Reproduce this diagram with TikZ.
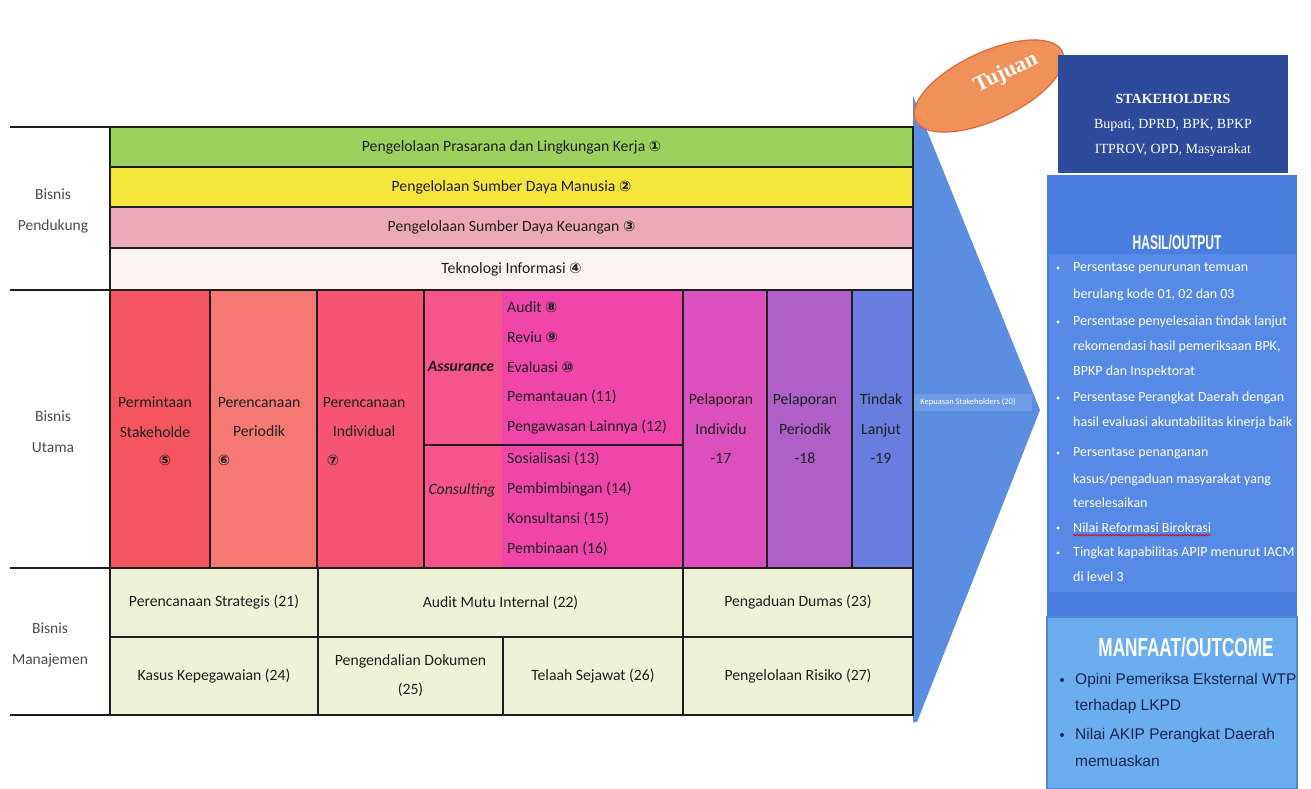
\documentclass[tikz,border=0pt]{standalone}
\usepackage{fontspec}
\usepackage{graphicx}
\setmainfont{Carlito}
\newfontfamily\symface{DejaVu Sans}
\newfontfamily\serifface{Liberation Serif}
\newfontfamily\arialface{Liberation Sans}
\usetikzlibrary{decorations.pathmorphing}

\definecolor{lineC}{HTML}{1E1E1E}
\definecolor{txtC}{HTML}{1F1F1F}
\definecolor{cGreen}{HTML}{9DD15E}
\definecolor{cYellow}{HTML}{F5E63C}
\definecolor{cPink}{HTML}{EBAAB6}
\definecolor{cWhite}{HTML}{FAF3F0}
\definecolor{cPerm}{HTML}{F5555F}
\definecolor{cPeri}{HTML}{F57873}
\definecolor{cIndi}{HTML}{F55573}
\definecolor{cAssL}{HTML}{F5558C}
\definecolor{cAssR}{HTML}{F046AA}
\definecolor{cPelI}{HTML}{DC50BE}
\definecolor{cPelP}{HTML}{AF5FC8}
\definecolor{cTind}{HTML}{697DE1}
\definecolor{cCream}{HTML}{F0F2D7}
\definecolor{cChev}{HTML}{5B8DE0}
\definecolor{cBand}{HTML}{6E9CE6}
\definecolor{cOrange}{HTML}{F0915A}
\definecolor{cOrangeD}{HTML}{E1643C}
\definecolor{cStake}{HTML}{2E4B9B}
\definecolor{cHasil}{HTML}{4A7DE0}
\definecolor{cHasilIn}{HTML}{568AE6}
\definecolor{cManf}{HTML}{6AAEF0}
\definecolor{cManfB}{HTML}{4A86DA}
\definecolor{cNavy}{HTML}{1C2550}

\newcommand\tabsize{\fontsize{15.7}{18}\selectfont}
\newcommand\circnum[1]{{\symface\bfseries\fontsize{14.5}{14.5}\selectfont#1}}

\begin{document}
\begin{tikzpicture}[x=1pt,y=-1pt,
  cell/.style={draw=lineC, line width=1.3pt, inner sep=0pt, outer sep=0pt,
               font=\tabsize, text=txtC, align=center},
  txt/.style={font=\tabsize, text=txtC, inner sep=0pt, align=center},
  multi/.style={txt, font=\fontsize{15.7}{29.5}\selectfont},
  rowlabel/.style={font=\fontsize{15.5}{31}\selectfont, text=txtC!80, inner sep=0pt, align=center},
  item/.style={txt, anchor=west},
  gridline/.style={draw=lineC, line width=1.3pt},
  hasil/.style={font=\fontsize{14}{16}\selectfont, text=white, inner sep=0pt, anchor=west},
  manf/.style={font=\arialface\fontsize{15.5}{18}\selectfont, text=cNavy, inner sep=0pt, anchor=west},
  dotw/.style={fill=white},
  dotn/.style={fill=cNavy}]

\useasboundingbox (0,0) rectangle (1311,789);
\fill[white] (0,0) rectangle (1311,789);

% --- chevron pointing to the goals panel
\fill[cChev] (913,96) -- (1040,410) -- (917,722) -- (913,722) -- cycle;
\fill[cBand] (913,394) rectangle (1032,411);
\node[font=\fontsize{8.5}{9}\selectfont, text=white, inner sep=0pt] (kepuasan) at (968,402) {Kepuasan Stakeholders (20)};

% --- supporting business rows
\node[cell, fill=cGreen, minimum width=803pt, minimum height=40pt] (prasarana) at (511.5,147)
  {Pengelolaan Prasarana dan Lingkungan Kerja \circnum{①}};
\node[cell, fill=cYellow, minimum width=803pt, minimum height=40pt] (sdm) at (511.5,187)
  {Pengelolaan Sumber Daya Manusia \circnum{②}};
\node[cell, fill=cPink, minimum width=803pt, minimum height=41pt] (keuangan) at (511.5,227.5)
  {Pengelolaan Sumber Daya Keuangan \circnum{③}};
\node[cell, fill=cWhite, minimum width=803pt, minimum height=42pt] (ti) at (511.5,269)
  {Teknologi Informasi \circnum{④}};

% --- core business columns
\node[cell, fill=cPerm, minimum width=100pt, minimum height=278pt] (perm) at (160,429) {};
\node[cell, fill=cPeri, minimum width=107pt, minimum height=278pt] (peri) at (263.5,429) {};
\node[cell, fill=cIndi, minimum width=107pt, minimum height=278pt] (indi) at (370.5,429) {};
\node[cell, fill=cAssR, minimum width=259pt, minimum height=155pt,
  path picture={\fill[cAssL] (path picture bounding box.south west) rectangle ([xshift=78pt]path picture bounding box.north west);}]
  (assurance) at (553.5,367.5) {};
\node[cell, fill=cAssR, minimum width=259pt, minimum height=123pt,
  path picture={\fill[cAssL] (path picture bounding box.south west) rectangle ([xshift=78pt]path picture bounding box.north west);}]
  (consulting) at (553.5,506.5) {};
\node[cell, fill=cPelI, minimum width=84pt, minimum height=278pt] (pelind) at (725,429) {};
\node[cell, fill=cPelP, minimum width=85pt, minimum height=278pt] (pelper) at (809.5,429) {};
\node[cell, fill=cTind, minimum width=61pt, minimum height=278pt] (tindak) at (882.5,429) {};

\node[multi] (tperm) at (155,417) {Permintaan\\Stakeholde};
\node[txt] (nperm) at (165,460) {\circnum{⑤}};
\node[multi] (tperi) at (259,417) {Perencanaan\\Periodik};
\node[txt] (nperi) at (224,460) {\circnum{⑥}};
\node[multi] (tindi) at (364,417) {Perencanaan\\Individual};
\node[txt] (nindi) at (333,460) {\circnum{⑦}};

\node[txt] (lassurance) at (461,366) {\bfseries\itshape Assurance};
\node[item] (audit) at (507,307) {Audit \circnum{⑧}};
\node[item] (reviu) at (507,337) {Reviu \circnum{⑨}};
\node[item] (evaluasi) at (507,367) {Evaluasi \circnum{⑩}};
\node[item] (pemantauan) at (507,397) {Pemantauan (11)};
\node[item] (pengawasan) at (507,427) {Pengawasan Lainnya (12)};

\node[txt] (lconsulting) at (462,490) {\itshape Consulting};
\node[item] (sosialisasi) at (507,459) {Sosialisasi (13)};
\node[item] (pembimbingan) at (507,489) {Pembimbingan (14)};
\node[item] (konsultansi) at (507,519) {Konsultansi (15)};
\node[item] (pembinaan) at (507,549) {Pembinaan (16)};

\node[multi] (tpelind) at (721,429) {Pelaporan\\Individu\\-17};
\node[multi] (tpelper) at (805,429) {Pelaporan\\Periodik\\-18};
\node[multi] (ttindak) at (881,429) {Tindak\\Lanjut\\-19};

% --- management business rows
\node[cell, fill=cCream, minimum width=208pt, minimum height=69pt] (strategis) at (214,602.5) {Perencanaan Strategis (21)};
\node[cell, fill=cCream, minimum width=365pt, minimum height=69pt] (amintern) at (500.5,602.5) {Audit Mutu Internal (22)};
\node[cell, fill=cCream, minimum width=230pt, minimum height=69pt] (dumas) at (798,602.5) {Pengaduan Dumas (23)};
\node[cell, fill=cCream, minimum width=208pt, minimum height=78pt] (kasus) at (214,676) {Kasus Kepegawaian (24)};
\node[cell, fill=cCream, minimum width=185pt, minimum height=78pt, font=\fontsize{15.7}{29}\selectfont] (dokumen) at (410.5,676) {Pengendalian Dokumen\\(25)};
\node[cell, fill=cCream, minimum width=180pt, minimum height=78pt] (telaah) at (593,676) {Telaah Sejawat (26)};
\node[cell, fill=cCream, minimum width=230pt, minimum height=78pt] (risiko) at (798,676) {Pengelolaan Risiko (27)};

% --- row labels and their rules
\draw[gridline] (10,127) -- (110,127);
\draw[gridline] (10,290) -- (110,290);
\draw[gridline] (10,568) -- (110,568);
\draw[gridline] (10,715) -- (110,715);
\node[rowlabel] (lpendukung) at (53,211) {Bisnis\\Pendukung};
\node[rowlabel] (lutama) at (53,432) {Bisnis\\Utama};
\node[rowlabel] (lmanajemen) at (50,645) {Bisnis\\Manajemen};

% --- goal ellipse
\filldraw[fill=cOrange, draw=cOrangeD, line width=1.2pt, rotate around={25:(989,86)}]
  (989,86) ellipse [x radius=81, y radius=34];
\node[font=\serifface\bfseries\fontsize{22}{22}\selectfont, text=white, rotate=25, inner sep=0pt] (tujuan) at (1006,73) {Tujuan};

% --- stakeholders box
\node[fill=cStake, minimum width=230pt, minimum height=118pt, inner sep=0pt] (stake) at (1173,114) {};
\node[font=\serifface\fontsize{14}{25}\selectfont, text=white, align=center, inner sep=0pt] (staketext) at (1173,125)
  {\textbf{STAKEHOLDERS}\\Bupati, DPRD, BPK, BPKP\\ITPROV, OPD, Masyarakat};

% --- output panel
\node[fill=cHasil, minimum width=250pt, minimum height=443pt, inner sep=0pt] (hasilbox) at (1172,396.5) {};
\fill[cHasilIn] (1049,254) rectangle (1296,592);
\node[text=white, inner sep=0pt] (hasiltitle) at (1177,242)
  {\scalebox{0.6}[1]{\arialface\bfseries\fontsize{20}{20}\selectfont HASIL/OUTPUT}};
\begin{scope}
\clip (1047,175) rectangle (1299,618);
\node[hasil] (h1) at (1073,268) {Persentase penurunan temuan};
\node[hasil] (h2) at (1073,295) {berulang kode 01, 02 dan 03};
\node[hasil] (h3) at (1073,322) {Persentase penyelesaian tindak lanjut};
\node[hasil] (h4) at (1073,347) {rekomendasi hasil pemeriksaan BPK,};
\node[hasil] (h5) at (1073,372) {BPKP dan Inspektorat};
\node[hasil] (h6) at (1073,398) {Persentase Perangkat Daerah dengan};
\node[hasil] (h7) at (1073,423) {hasil evaluasi akuntabilitas kinerja baik};
\node[hasil] (h8) at (1073,453) {Persentase penanganan};
\node[hasil] (h9) at (1073,480) {kasus/pengaduan masyarakat yang};
\node[hasil] (h10) at (1073,503) {terselesaikan};
\node[hasil] (h11) at (1073,528) {Nilai Reformasi Birokrasi};
\node[hasil] (h12) at (1073,553) {Tingkat kapabilitas APIP menurut IACM};
\node[hasil] (h13) at (1073,577) {di level 3};
\end{scope}
\draw[red!85!black, line width=0.7pt, decorate, decoration={snake, amplitude=0.8pt, segment length=3pt}]
  ([yshift=-2pt]h11.south west) -- ([yshift=-2pt]h11.south east);
\foreach \n in {h1,h3,h6,h8,h11,h12}
  \fill[dotw] (1058,0 |- \n.center) circle (1.7pt);

% --- outcome panel
\node[fill=cManf, draw=cManfB, line width=1.5pt, minimum width=250pt, minimum height=172pt, inner sep=0pt] (manfbox) at (1172,703) {};
\node[text=white, inner sep=0pt] (manftitle) at (1186,647)
  {\scalebox{0.66}[1]{\arialface\bfseries\fontsize{26}{26}\selectfont MANFAAT/OUTCOME}};
\node[manf] (m1) at (1075,680) {Opini Pemeriksa Eksternal WTP};
\node[manf] (m2) at (1075,706) {terhadap LKPD};
\node[manf] (m3) at (1075,735) {Nilai AKIP Perangkat Daerah};
\node[manf] (m4) at (1075,761) {memuaskan};
\foreach \n in {m1,m3}
  \fill[dotn] (1062,0 |- \n.center) circle (2pt);

\end{tikzpicture}
\end{document}
